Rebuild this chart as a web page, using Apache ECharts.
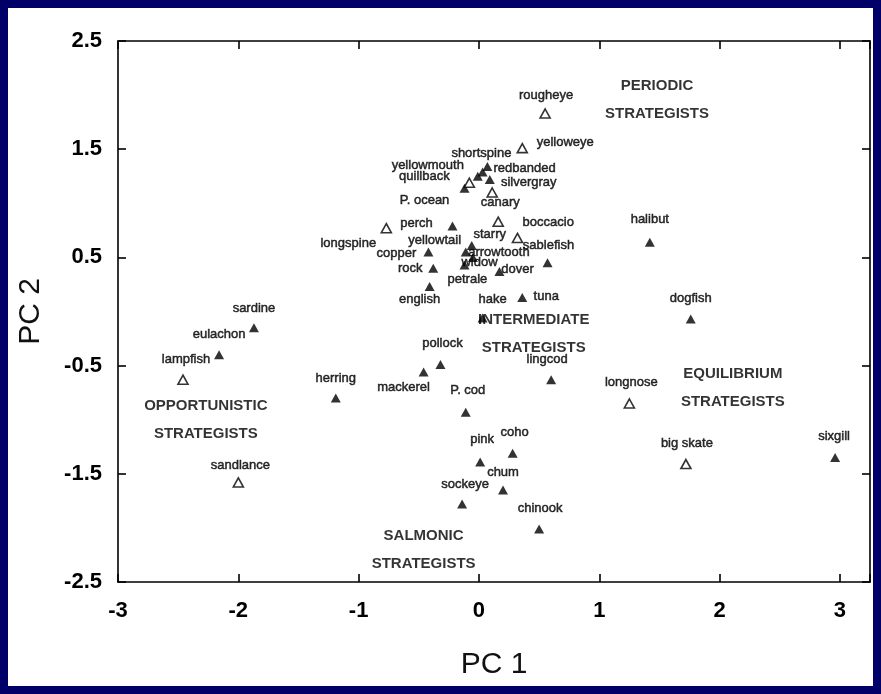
<!DOCTYPE html>
<html>
<head>
<meta charset="utf-8">
<script src="https://cdn.jsdelivr.net/npm/echarts@6/dist/echarts.min.js"></script>
<style>
html,body{margin:0;padding:0;width:881px;height:694px;background:#000068;overflow:hidden;}
#chart{position:absolute;left:8px;top:8px;width:865px;height:678px;background:#fff;}
</style>
</head>
<body>
<div id="chart"></div>
<script>
// ---- data ----
const species = ['rougheye','yelloweye','shortspine','redbanded','yellowmouth','quillback','silvergray','canary','P. ocean',
  'perch','longspine','boccacio','starry','sablefish','yellowtail','copper','arrowtooth','widow','rock','petrale','dover',
  'english','hake','tuna','sardine','eulachon','lampfish','herring','sandlance','pollock','mackerel','lingcod','P. cod',
  'longnose','pink','coho','chum','sockeye','chinook','halibut','dogfish','big skate','sixgill'];
const pc1 = [0.55,0.36,0.07,0.03,-0.01,-0.08,0.09,0.11,-0.12,
  -0.22,-0.77,0.16,-0.06,0.32,-0.11,-0.42,-0.05,-0.12,-0.38,0.17,0.57,
  -0.41,0.03,0.36,-1.87,-2.16,-2.46,-1.19,-2.00,-0.32,-0.46,0.60,-0.11,
  1.25,0.01,0.28,0.20,-0.14,0.50,1.42,1.76,1.72,2.96];
const pc2 = [1.83,1.51,1.34,1.29,1.25,1.19,1.22,1.10,1.14,
  0.79,0.77,0.83,0.61,0.68,0.55,0.55,0.50,0.43,0.40,0.37,0.45,
  0.23,-0.06,0.13,-0.15,-0.40,-0.63,-0.80,-1.58,-0.49,-0.56,-0.63,-0.93,
  -0.85,-1.39,-1.31,-1.65,-1.78,-2.01,0.64,-0.07,-1.41,-1.35];
const openSpecies = ['rougheye','yelloweye','canary','quillback','longspine','boccacio','sablefish','lampfish','sandlance','longnose','big skate'];
const groupNames = ['PERIODIC\nSTRATEGISTS','INTERMEDIATE\nSTRATEGISTS','EQUILIBRIUM\nSTRATEGISTS','OPPORTUNISTIC\nSTRATEGISTS','SALMONIC\nSTRATEGISTS'];
const groupPc1 = [1.48,0.455,2.11,-2.27,-0.46];
const groupPc2 = [1.96,-0.21,-0.71,-1.00,-2.20];
const xTicks = [-3,-2,-1,0,1,2,3];
const yTicks = [-2.5,-1.5,-0.5,0.5,1.5,2.5];

// ---- label placement (layout only, px offsets of the name from its marker) ----
const labelOffset = {
  'rougheye':[1,-18],'yelloweye':[43,-6],'shortspine':[-6,-13],'redbanded':[42,-4],'yellowmouth':[-50,-11],
  'quillback':[-45,-6],'silvergray':[39,3],'canary':[8,10],'P. ocean':[-40,12],'perch':[-36,-3],
  'longspine':[-38,15],'boccacio':[50,1],'starry':[18,-11],'sablefish':[31,7],'yellowtail':[-31,-12],
  'copper':[-32,1],'arrowtooth':[26,-5],'widow':[15,-3],'rock':[-23,0],'petrale':[-32,8],'dover':[-30,7],
  'english':[-10,13],'hake':[10,-19],'tuna':[24,-1],'sardine':[0,-19],'eulachon':[0,-20],'lampfish':[3,-20],
  'herring':[0,-20],'sandlance':[2,-17],'pollock':[2,-21],'mackerel':[-20,15],'lingcod':[-4,-20],
  'P. cod':[2,-22],'longnose':[2,-21],'pink':[2,-22],'coho':[2,-21],'chum':[0,-18],'sockeye':[3,-20],
  'chinook':[1,-21],'halibut':[0,-23],'dogfish':[0,-21],'big skate':[1,-21],'sixgill':[-1,-21]
};

const FONT = '"Liberation Sans Narrow","Liberation Sans",Arial,sans-serif';

function makeData(open) {
  const out = [];
  species.forEach((n, i) => {
    const isOpen = openSpecies.indexOf(n) >= 0;
    if (isOpen !== open) return;
    out.push({ name: n, value: [pc1[i], pc2[i]], label: { offset: labelOffset[n] || [0, -20] } });
  });
  return out;
}

const speciesLabel = {
  show: true, position: 'inside', formatter: '{b}',
  color: '#000', fontSize: 13, fontFamily: FONT, align: 'center', verticalAlign: 'middle',
  textBorderColor: '#000', textBorderWidth: 0.5
};

const axisLineStyle = { color: '#000', width: 1.6 };
const chart = echarts.init(document.getElementById('chart'));
chart.setOption({
  backgroundColor: '#ffffff',
  animation: false,
  grid: { left: 109, right: 2, top: 33, bottom: 104 },
  xAxis: [{
    type: 'value', position: 'bottom', min: -3, max: 3.25, interval: 1,
    axisLine: { show: true, onZero: false, lineStyle: axisLineStyle },
    axisTick: { show: true, inside: true, length: 8, lineStyle: axisLineStyle },
    splitLine: { show: false },
    axisLabel: { margin: 18, color: '#000', fontSize: 22, fontFamily: FONT, fontWeight: 'bold',
      formatter: v => (xTicks.indexOf(v) >= 0 ? String(v) : '') },
    name: 'PC 1', nameLocation: 'middle', nameGap: 68,
    nameTextStyle: { color: '#111', fontSize: 30, fontFamily: FONT }
  }, {
    type: 'value', position: 'top', min: -3, max: 3.25, interval: 1,
    axisLine: { show: true, onZero: false, lineStyle: axisLineStyle },
    axisTick: { show: true, inside: true, length: 8, lineStyle: axisLineStyle },
    splitLine: { show: false }, axisLabel: { show: false }
  }],
  yAxis: [{
    type: 'value', position: 'left', min: -2.5, max: 2.5, interval: 1,
    axisLine: { show: true, onZero: false, lineStyle: axisLineStyle },
    axisTick: { show: true, inside: true, length: 8, lineStyle: axisLineStyle },
    splitLine: { show: false },
    axisLabel: { margin: 16, color: '#000', fontSize: 22, fontFamily: FONT, fontWeight: 'bold',
      formatter: v => (yTicks.indexOf(v) >= 0 ? String(v) : '') },
    name: 'PC 2', nameLocation: 'middle', nameGap: 72, nameRotate: 90,
    nameTextStyle: { color: '#111', fontSize: 30, fontFamily: FONT }
  }, {
    type: 'value', position: 'right', min: -2.5, max: 2.5, interval: 1,
    axisLine: { show: true, onZero: false, lineStyle: axisLineStyle },
    axisTick: { show: true, inside: true, length: 8, lineStyle: axisLineStyle },
    splitLine: { show: false }, axisLabel: { show: false }
  }],
  series: [{
    name: 'filled', type: 'scatter', symbol: 'triangle', symbolSize: [10, 9],
    itemStyle: { color: '#000' }, label: speciesLabel, data: makeData(false), z: 3
  }, {
    name: 'open', type: 'scatter', symbol: 'triangle', symbolSize: [10, 9],
    itemStyle: { color: '#fff', borderColor: '#000', borderWidth: 1.6 }, label: speciesLabel, data: makeData(true), z: 3
  }, {
    name: 'groups', type: 'scatter', symbolSize: 0, silent: true, z: 4,
    label: { show: true, position: 'inside', formatter: '{b}', color: '#000', fontSize: 15, fontWeight: 'bold',
      fontFamily: '"Liberation Sans",Arial,sans-serif', lineHeight: 28, align: 'center', verticalAlign: 'middle',
      textBorderWidth: 0 },
    data: groupNames.map((n, i) => ({ name: n, value: [groupPc1[i], groupPc2[i]] }))
  }]
});
</script>
</body>
</html>
